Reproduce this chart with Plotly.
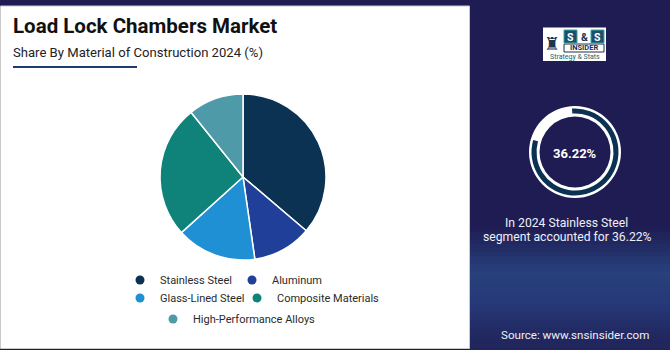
import plotly.graph_objects as go

# ---------------- data ----------------
TITLE = "Load Lock Chambers Market"
SUBTITLE = "Share By Material of Construction 2024 (%)"
CATEGORIES = ["Stainless Steel", "Aluminum", "Glass-Lined Steel",
              "Composite Materials", "High-Performance Alloys"]
SHARES = [36.22, 11.5, 15.6, 25.9, 10.78]
COLORS = ["#0c3253", "#1f3f98", "#1f90d4", "#0f827a", "#4e9aa8"]
HIGHLIGHT = "36.22%"
GAUGE_PARTS = [80.6, 19.4]          # dark arc vs. open gap of the badge ring
INSIGHT = ["In 2024 Stainless Steel", "segment accounted for 36.22%"]
SOURCE = "Source: www.snsinsider.com"

# ---------------- layout helpers ----------------
W, H = 670, 350
NAVY = "#1e1c52"
FONT = "Roboto"


def fx(x):
    return x / W


def fy(y):
    return 1 - y / H


def hexrgb(h):
    h = h.lstrip("#")
    return tuple(int(h[i:i + 2], 16) for i in (0, 2, 4))


def lerp(c1, c2, t):
    a, b = hexrgb(c1), hexrgb(c2)
    return "rgb(%d,%d,%d)" % tuple(round(a[i] + (b[i] - a[i]) * t) for i in range(3))


fig = go.Figure()

# main pie
PIE_C, PIE_R = (243, 177), 83
fig.add_trace(go.Pie(
    labels=CATEGORIES, values=SHARES, sort=False, direction="clockwise", rotation=0,
    marker=dict(colors=COLORS, line=dict(color="white", width=1.5)),
    textinfo="none", hoverinfo="label+percent", showlegend=False,
    domain=dict(x=[fx(PIE_C[0] - PIE_R), fx(PIE_C[0] + PIE_R)],
                y=[fy(PIE_C[1] + PIE_R), fy(PIE_C[1] - PIE_R)]),
))

# badge ring (white) and dark arc
G_C = (575, 152)
GR_OUT, GR_IN = 46, 35.5
fig.add_trace(go.Pie(
    values=[1], labels=["ring"], marker=dict(colors=["white"], line=dict(width=0)),
    hole=GR_IN / GR_OUT, textinfo="none", hoverinfo="skip", showlegend=False, sort=False,
    domain=dict(x=[fx(G_C[0] - GR_OUT), fx(G_C[0] + GR_OUT)],
                y=[fy(G_C[1] + GR_OUT), fy(G_C[1] - GR_OUT)]),
))
ARC_OUT, ARC_IN = 43.5, 38.5
fig.add_trace(go.Pie(
    values=GAUGE_PARTS, labels=["arc", "gap"], sort=False, direction="clockwise", rotation=-4,
    marker=dict(colors=[COLORS[0], "rgba(0,0,0,0)"], line=dict(width=0)),
    hole=ARC_IN / ARC_OUT, textinfo="none", hoverinfo="skip", showlegend=False,
    domain=dict(x=[fx(G_C[0] - ARC_OUT), fx(G_C[0] + ARC_OUT)],
                y=[fy(G_C[1] + ARC_OUT), fy(G_C[1] - ARC_OUT)]),
))

# legend entries, one legend box per entry to reproduce the centred layout
# (symbol centre x, row centre y, legend-box shift)
LEG_POS = [(147, 280, 27), (253, 280, 21), (147, 298, 27), (258, 298, 21), (177, 319, 24)]
legends = {}
for i, (name, col) in enumerate(zip(CATEGORIES, COLORS)):
    lid = "legend" if i == 0 else "legend%d" % (i + 1)
    fig.add_trace(go.Scatter(x=[None], y=[None], mode="markers", name=name,
                             marker=dict(color=col, size=9), legend=lid, showlegend=True))
    mx, my, sh = LEG_POS[i]
    legends[lid] = dict(x=fx(mx - sh), y=fy(my), xanchor="left", yanchor="middle",
                        bgcolor="rgba(0,0,0,0)", borderwidth=0, itemwidth=30,
                        font=dict(family=FONT, size=11, color="#2a2a2a"))

shapes = []
# right panel gradient
stops = [(0, NAVY), (225, NAVY), (270, "#28407c"), (300, "#26397a"), (330, "#222a62"), (350, "#20245a")]
step = 4
for y in range(200, 350, step):
    for (y0, c0), (y1, c1) in zip(stops[:-1], stops[1:]):
        if y0 <= y < y1:
            col = lerp(c0, c1, (y - y0) / (y1 - y0))
            break
    shapes.append(dict(type="rect", xref="paper", yref="paper", x0=fx(469), x1=1,
                       y0=fy(y + step + 0.5), y1=fy(y), fillcolor=col, line=dict(width=0), layer="below"))
# white card
shapes.append(dict(type="rect", xref="paper", yref="paper", x0=fx(0.5), x1=fx(469.5),
                   y0=fy(348.5), y1=fy(6), fillcolor="white",
                   line=dict(color="#c9c9c9", width=1), layer="below"))
# title underline
shapes.append(dict(type="line", xref="paper", yref="paper", x0=fx(13), x1=fx(137),
                   y0=fy(67), y1=fy(67), line=dict(color="#1d3d6b", width=2)))
# logo box
shapes.append(dict(type="rect", xref="paper", yref="paper", x0=fx(543), x1=fx(606),
                   y0=fy(61), y1=fy(27.5), fillcolor="white", line=dict(width=0)))
shapes.append(dict(type="rect", xref="paper", yref="paper", x0=fx(564), x1=fx(604),
                   y0=fy(52), y1=fy(44), fillcolor="white", line=dict(color="#1c2f4a", width=1)))
shapes.append(dict(type="rect", xref="paper", yref="paper", x0=fx(564), x1=fx(577),
                   y0=fy(43), y1=fy(30), fillcolor="#1d4f6a", line=dict(color="#3aa6a6", width=1)))
shapes.append(dict(type="rect", xref="paper", yref="paper", x0=fx(591), x1=fx(604),
                   y0=fy(43), y1=fy(30), fillcolor="#1d4f6a", line=dict(color="#3aa6a6", width=1)))

ann = []


def text(x, y, s, size, color, bold=False, xanchor="left", family=FONT):
    ann.append(dict(x=fx(x), y=fy(y), xref="paper", yref="paper", showarrow=False,
                    text=("<b>%s</b>" % s) if bold else s, xanchor=xanchor, yanchor="middle",
                    font=dict(family=family, size=size, color=color)))


text(11, 26, TITLE, 20.5, "#111111", bold=True)
text(11, 52, SUBTITLE, 13.1, "#222222")
text(G_C[0], G_C[1] + 1, HIGHLIGHT, 13, "white", bold=True, xanchor="center")
text(566, 223, INSIGHT[0], 12.2, "#eef0f7", xanchor="center")
text(567, 237, INSIGHT[1], 12.2, "#eef0f7", xanchor="center")
text(575, 335, SOURCE, 11.6, "#eef0f7", xanchor="center")
# logo texts
text(551.5, 43, "♜", 18, "#1b3550", xanchor="center", family="DejaVu Sans")
text(570.5, 37, "S", 10.5, "white", bold=True, xanchor="center")
text(584, 37, "&", 10.5, "#1b3550", bold=True, xanchor="center")
text(597.5, 37, "S", 10.5, "white", bold=True, xanchor="center")
text(584, 48, "INSIDER", 7.5, "#1c2f4a", bold=True, xanchor="center")
text(574.5, 57.5, "Strategy & Stats", 7, "#1d5f73", xanchor="center")

fig.update_layout(
    width=W, height=H, margin=dict(l=0, r=0, t=0, b=0),
    paper_bgcolor=NAVY, plot_bgcolor="rgba(0,0,0,0)",
    xaxis=dict(visible=False), yaxis=dict(visible=False),
    shapes=shapes, annotations=ann, **legends,
)

fig.write_html("out.html")
